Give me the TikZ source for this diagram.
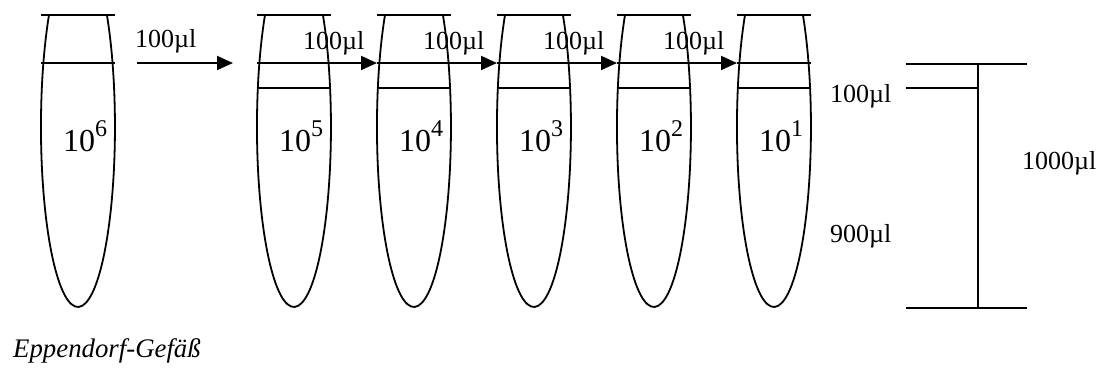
\documentclass[tikz,border=0pt]{standalone}
\usepackage{fontspec}
\setmainfont{Liberation Serif}
\usetikzlibrary{arrows.meta}
\begin{document}
\begin{tikzpicture}[x=1pt,y=1pt,
  tube/.style={line width=1.8pt},
  lvl/.style={line width=1.8pt},
  flow/.style={line width=1.8pt,-{Triangle[length=16pt,width=14pt]}},
  vol/.style={font=\fontsize{26}{30}\selectfont, inner sep=0pt, anchor=base west},
  captext/.style={font=\itshape\fontsize{26.8}{32}\selectfont, inner sep=0pt, anchor=base west},
  conc/.style={font=\fontsize{32}{38}\selectfont, inner sep=0pt, anchor=base west}]
\useasboundingbox (0,0) rectangle (1101,372);
\foreach \c/\e [count=\i] in {78/6,294/5,414/4,534/3,654/2,774/1} {
  \draw[tube] (\c-29,357) arc[start angle=141.52, end angle=398.48, x radius=37, y radius=180];
  \draw[lvl] (\c-37,357) -- (\c+37,357);
  \draw[lvl] (\c-37,309) -- (\c+37,309);
  \node[conc] (t\i) at (\c-15,220) {10\raisebox{15pt}{\fontsize{24}{24}\selectfont\e}};
  \coordinate (l\i) at (\c-37,309);
  \coordinate (r\i) at (\c+37,309);
}
\foreach \c in {294,414,534,654,774} {
  \draw[lvl] (\c-37,284) -- (\c+37,284);
}
% transfer arrows
\coordinate (s1) at (137,309);
\coordinate (e1) at (233,309);
\draw[flow] (s1) -- (e1);
\node[vol] (v1) at (135,324) {100µl};
\draw[flow] (r2) -- (l3);
\draw[flow] (r3) -- (l4);
\draw[flow] (r4) -- (l5);
\draw[flow] (r5) -- (l6);
\foreach \c [count=\i from 2] in {294,414,534,654} {
  \node[vol] (v\i) at (\c+9,322) {100µl};
}
% volume scale
\coordinate (b1) at (906,308);
\coordinate (b2) at (1027,308);
\coordinate (b3) at (906,284);
\coordinate (b4) at (978,284);
\coordinate (b5) at (906,64);
\coordinate (b6) at (1027,64);
\coordinate (vt) at (978,308);
\coordinate (vb) at (978,64);
\draw[lvl] (b1) -- (b2);
\draw[lvl] (b3) -- (b4);
\draw[lvl] (b5) -- (b6);
\draw[lvl] (vt) -- (vb);
\node[vol] (s100) at (830,269) {100µl};
\node[vol] (s900) at (830,129) {900µl};
\node[vol] (s1000) at (1022,202) {1000µl};
\node[captext] (capt) at (13,14) {Eppendorf-Gefäß};
\end{tikzpicture}
\end{document}
